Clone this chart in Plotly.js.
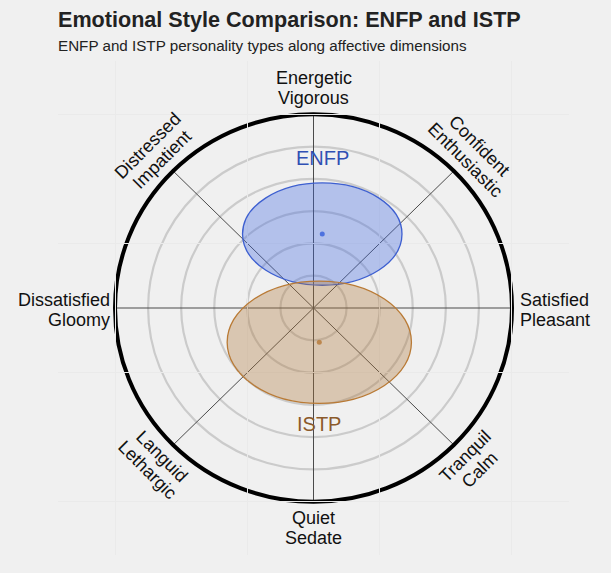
<!DOCTYPE html>
<html>
<head>
<meta charset="utf-8">
<script src="https://cdn.plot.ly/plotly-3.0.1.min.js"></script>
<style>
  html, body { margin: 0; padding: 0; background: #f0f0f0; }
  #chart { width: 611px; height: 573px; }
</style>
</head>
<body>
<div id="chart"></div>
<script>
// ---- data ----
const ringRadii = [0.2, 0.4, 0.6, 0.8, 1.0];
const outerRadius = 1.2;
const dimensionAngles = [0, 45, 90, 135, 180, 225, 270, 315];
const dimensionLine1 = ['Satisfied', 'Confident', 'Energetic', 'Distressed', 'Dissatisfied', 'Languid', 'Quiet', 'Tranquil'];
const dimensionLine2 = ['Pleasant', 'Enthusiastic', 'Vigorous', 'Impatient', 'Gloomy', 'Lethargic', 'Sedate', 'Calm'];

const typeNames = ['ENFP', 'ISTP'];
const typeCenterX = [0.053, 0.035];
const typeCenterY = [0.458, -0.212];
const typeSpreadX = [0.482, 0.557];
const typeSpreadY = [0.317, 0.379];

// ---- styles ----
const typeLine = ['#3d5fd0', '#b97a35'];
const typeFill = ['rgba(65,105,225,0.35)', 'rgba(176,120,60,0.35)'];
const typeDot = ['#5577dd', '#c48f58'];
const typeText = ['#3050b4', '#8b5a2b'];
const FONT = 'Liberation Sans, Arial, Helvetica, sans-serif';

const shapes = [];
ringRadii.forEach(r => shapes.push({
  type: 'circle', xref: 'x', yref: 'y', x0: -r, x1: r, y0: -r, y1: r,
  line: { color: '#cbcbcb', width: 2.2 }, layer: 'below'
}));
dimensionAngles.forEach(a => {
  const t = a * Math.PI / 180;
  shapes.push({
    type: 'line', xref: 'x', yref: 'y', x0: 0, y0: 0,
    x1: outerRadius * Math.cos(t), y1: outerRadius * Math.sin(t),
    line: { color: '#4a4a4a', width: 1 }, layer: 'below'
  });
});
shapes.push({
  type: 'circle', xref: 'x', yref: 'y', x0: -outerRadius, x1: outerRadius, y0: -outerRadius, y1: outerRadius,
  line: { color: '#000000', width: 4 }, layer: 'below'
});
typeNames.forEach((n, i) => shapes.push({
  type: 'circle', xref: 'x', yref: 'y',
  x0: typeCenterX[i] - typeSpreadX[i], x1: typeCenterX[i] + typeSpreadX[i],
  y0: typeCenterY[i] - typeSpreadY[i], y1: typeCenterY[i] + typeSpreadY[i],
  fillcolor: typeFill[i], line: { color: typeLine[i], width: 1.3 }, layer: 'above'
}));

const traces = typeNames.map((n, i) => ({
  type: 'scatter', mode: 'markers', x: [typeCenterX[i]], y: [typeCenterY[i]],
  marker: { color: typeDot[i], size: 5 }, hoverinfo: 'skip', showlegend: false
}));

const annotations = [];
const labelRadius = 1.36;
const sideRadius = 1.24;
const lineGap = 20;
dimensionAngles.forEach((a, i) => {
  const t = a * Math.PI / 180;
  const lines = [dimensionLine1[i], dimensionLine2[i]];
  let x, y, xanchor = 'center', textangle = 0, xoff = 0;
  if (a === 0) { x = sideRadius; y = 0; xanchor = 'left'; xoff = -1; }
  else if (a === 180) { x = -sideRadius; y = 0; xanchor = 'right'; xoff = 4; }
  else {
    x = labelRadius * Math.cos(t); y = labelRadius * Math.sin(t);
    if (a === 45 || a === 225) textangle = 45;
    else if (a === 135 || a === 315) textangle = -45;
  }
  const th = textangle * Math.PI / 180;
  lines.forEach((txt, j) => {
    const k = (j - 0.5) * lineGap;
    let xs = -Math.sin(th) * k + xoff;
    let ys = -Math.cos(th) * k;
    if (a === 0 || a === 180) ys -= 1.5;
    annotations.push({
      x: x, y: y, xref: 'x', yref: 'y', text: txt, showarrow: false,
      xanchor: xanchor, yanchor: 'middle', textangle: textangle,
      xshift: xs, yshift: ys,
      font: { family: FONT, size: 18, color: '#111111' }
    });
  });
});

// type labels
typeNames.forEach((n, i) => {
  const above = typeCenterY[i] > 0;
  annotations.push({
    x: typeCenterX[i], y: above ? typeCenterY[i] + typeSpreadY[i] : typeCenterY[i] - typeSpreadY[i],
    xref: 'x', yref: 'y', text: n, showarrow: false,
    xanchor: 'center', yanchor: 'middle', yshift: above ? 25 : -21,
    font: { family: FONT, size: 20, color: typeText[i] }
  });
});

// title + subtitle
annotations.push({
  xref: 'paper', yref: 'paper', x: 0, y: 1.083, xanchor: 'left', yanchor: 'middle',
  xshift: -2, text: '<b>Emotional Style Comparison: ENFP and ISTP</b>', showarrow: false,
  font: { family: FONT, size: 21.6, color: '#222222' }
});
annotations.push({
  xref: 'paper', yref: 'paper', x: 0, y: 1.032, xanchor: 'left', yanchor: 'middle',
  xshift: -2, text: 'ENFP and ISTP personality types along affective dimensions', showarrow: false,
  font: { family: FONT, size: 15.2, color: '#222222' }
});

const axisCommon = {
  showgrid: true, gridcolor: '#eaeaea', gridwidth: 1, tick0: 0.4, dtick: 0.8,
  zeroline: false, showticklabels: false, ticks: '', showline: false, fixedrange: true
};

const layout = {
  width: 611, height: 573,
  margin: { l: 58, r: 42, t: 61, b: 18 },
  paper_bgcolor: '#f0f0f0', plot_bgcolor: '#f0f0f0',
  xaxis: Object.assign({ range: [-1.5447, 1.5447] }, axisCommon),
  yaxis: Object.assign({ range: [-1.530, 1.530] }, axisCommon),
  shapes: shapes, annotations: annotations, showlegend: false
};

Plotly.newPlot('chart', traces, layout, { displayModeBar: false, staticPlot: true });
</script>
</body>
</html>
